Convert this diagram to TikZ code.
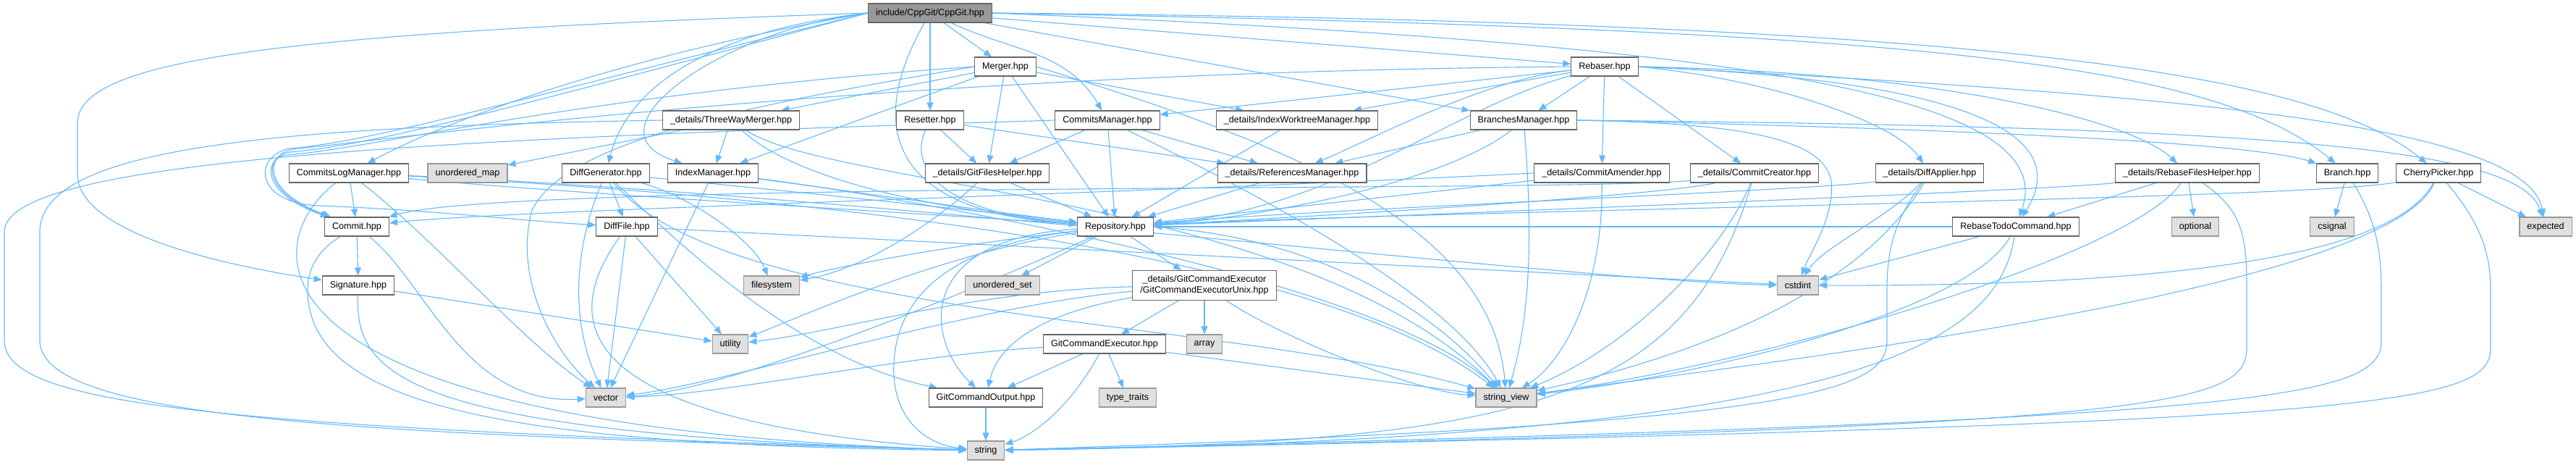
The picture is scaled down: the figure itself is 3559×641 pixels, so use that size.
\documentclass[tikz,border=0pt]{standalone}
\usepackage{fontspec}
\setmainfont{Liberation Sans}
\usetikzlibrary{arrows.meta, backgrounds}
\definecolor{edgeblue}{HTML}{63B8FF}
\definecolor{boxgray}{HTML}{666666}
\definecolor{extfill}{HTML}{E0E0E0}
\definecolor{extdraw}{HTML}{999999}
\definecolor{rootfill}{HTML}{999999}
\tikzset{
  hdr/.style={
    rectangle, draw=boxgray, fill=white, line width=1.1pt,
    minimum height=26pt, inner xsep=10.5pt, inner ysep=2pt,
    font=\fontsize{12.6}{15}\selectfont
  },
  sysbox/.style={hdr, draw=extdraw, fill=extfill},
  rootbox/.style={hdr, fill=rootfill},
  dep/.style={draw=edgeblue, line width=1.1pt,
    -{Triangle[length=11pt,width=9pt]}}
}
\begin{document}
\begin{tikzpicture}[x=1pt, y=1pt]
    \useasboundingbox (0,0) rectangle (3559,-641);

    % Root
    \node[rootbox] (cppgit) at (1285,-18) {include/CppGit/CppGit.hpp};

    % Public headers and helpers
    \node[hdr] (merger) at (1389,-92) {Merger.hpp};
    \node[hdr] (rebaser) at (2217,-92) {Rebaser.hpp};
    \node[hdr] (threeWay) at (1010,-166) {\_details/ThreeWayMerger.hpp};
    \node[hdr] (resetter) at (1285,-166) {Resetter.hpp};
    \node[hdr] (commitsMgr) at (1530,-166) {CommitsManager.hpp};
    \node[hdr] (indexWt) at (1792,-166) {\_details/IndexWorktreeManager.hpp};
    \node[hdr] (branchesMgr) at (2105,-166) {BranchesManager.hpp};
    \node[hdr] (logMgr) at (482,-239) {CommitsLogManager.hpp};
    \node[sysbox] (umap) at (646,-239) {unordered\_map};
    \node[hdr] (diffGen) at (837,-239) {DiffGenerator.hpp};
    \node[hdr] (indexMgr) at (985,-239) {IndexManager.hpp};
    \node[hdr] (gitFiles) at (1364,-239) {\_details/GitFilesHelper.hpp};
    \node[hdr] (refsMgr) at (1785,-239) {\_details/ReferencesManager.hpp};
    \node[hdr] (amender) at (2213,-239) {\_details/CommitAmender.hpp};
    \node[hdr] (creator) at (2424,-239) {\_details/CommitCreator.hpp};
    \node[hdr] (diffApplier) at (2666,-239) {\_details/DiffApplier.hpp};
    \node[hdr] (rebaseFiles) at (3022,-239) {\_details/RebaseFilesHelper.hpp};
    \node[hdr] (branch) at (3243,-239) {Branch.hpp};
    \node[hdr] (cherryPicker) at (3369,-239) {CherryPicker.hpp};
    \node[hdr] (commit) at (493,-313) {Commit.hpp};
    \node[hdr] (diffFile) at (866,-313) {DiffFile.hpp};
    \node[hdr] (repo) at (1541,-313) {Repository.hpp};
    \node[hdr] (todoCmd) at (2785,-313) {RebaseTodoCommand.hpp};
    \node[hdr] (signature) at (495,-394) {Signature.hpp};
    \node[hdr, align=center, minimum height=41pt] (execUnix) at (1664,-394)
      {\_details/GitCommandExecutor\\/GitCommandExecutorUnix.hpp};
    \node[hdr] (gitExec) at (1526,-475) {GitCommandExecutor.hpp};
    \node[hdr] (gitOutput) at (1362,-549) {GitCommandOutput.hpp};

    % Standard headers
    \node[sysbox] (optional) at (3033,-313) {optional};
    \node[sysbox] (csignal) at (3222,-313) {csignal};
    \node[sysbox] (expected) at (3517,-313) {expected};
    \node[sysbox] (filesystem) at (1066,-394) {filesystem};
    \node[sysbox] (uset) at (1385,-394) {unordered\_set};
    \node[sysbox] (cstdint) at (2484,-394) {cstdint};
    \node[sysbox] (utility) at (1009,-475) {utility};
    \node[sysbox] (array) at (1664,-475) {array};
    \node[sysbox] (vector) at (837,-549) {vector};
    \node[sysbox] (typeTraits) at (1558,-549) {type\_traits};
    \node[sysbox] (stringView) at (2081,-549) {string\_view};
    \node[sysbox] (string) at (1362,-622) {string};

    \begin{scope}[on background layer]
    % CppGit.hpp
    \draw[dep] (cppgit) -- (merger);
    \draw[dep] (cppgit) -- (resetter);
    \draw[dep] (cppgit) to[out=-25, in=120] (commitsMgr);
    \draw[dep] (cppgit) .. controls (1215,-140) and (1190,-290) .. (repo);
    \draw[dep] (cppgit) -- (rebaser);
    \draw[dep] (cppgit) -- (branchesMgr);
    \draw[dep] (cppgit.east) .. controls (2600,-40) and (3050,-80) .. (branch);
    \draw[dep] (cppgit.east) .. controls (2750,-30) and (3200,-100) .. (cherryPicker);
    \draw[dep] (cppgit.east) .. controls (2400,-60) and (2850,-130) .. (todoCmd);
    \draw[dep] (cppgit.west) .. controls (900,-70) and (650,-150) .. (logMgr);
    \draw[dep] (cppgit.west) .. controls (700,-150) and (520,-200) .. (400,-210)
      .. controls (365,-215) and (360,-265) .. (commit);
    \draw[dep] (cppgit.west) .. controls (400,-45) and (107,-80) .. (107,-170)
      -- (107,-240) .. controls (107,-320) and (300,-365) .. (signature);
    \draw[dep] (cppgit.west) .. controls (700,-140) and (520,-195) .. (400,-205)
      .. controls (350,-215) and (350,-280) .. (440,-284)
      .. controls (600,-290) and (720,-305) .. (diffFile);
    \draw[dep] (cppgit.west) .. controls (1000,-40) and (870,-110) .. (diffGen);
    \draw[dep] (cppgit.west) .. controls (1000,-40) and (800,-180) .. (indexMgr);

    % Merger.hpp
    \draw[dep] (merger) -- (threeWay);
    \draw[dep] (merger) -- (indexMgr);
    \draw[dep] (merger) -- (gitFiles);
    \draw[dep] (merger) -- (repo);
    \draw[dep] (merger) -- (indexWt);
    \draw[dep] (merger.west) .. controls (800,-130) and (520,-205) .. (395,-214)
      .. controls (362,-220) and (362,-268) .. (commit);
    \draw[dep] (merger.west) .. controls (1000,-150) and (780,-200) .. (735,-290)
      .. controls (710,-380) and (760,-480) .. (vector);
    \draw[dep] (merger.east) .. controls (1750,-190) and (2060,-300) .. (stringView);

    % Resetter.hpp
    \draw[dep] (resetter) -- (gitFiles);
    \draw[dep] (resetter) -- (refsMgr);
    \draw[dep] (resetter) .. controls (1255,-230) and (1300,-295) .. (repo);

    % CommitsManager.hpp
    \draw[dep] (commitsMgr) -- (gitFiles);
    \draw[dep] (commitsMgr) -- (repo);
    \draw[dep] (commitsMgr) -- (refsMgr);
    \draw[dep] (commitsMgr.west) .. controls (600,-192) and (6,-220) .. (6,-320)
      -- (6,-470) .. controls (6,-560) and (300,-590) .. (string);
    \draw[dep] (commitsMgr) .. controls (1700,-250) and (2000,-400) .. (stringView);

    % Rebaser.hpp
    \draw[dep] (rebaser) -- (indexWt);
    \draw[dep] (rebaser) -- (commitsMgr);
    \draw[dep] (rebaser) .. controls (2050,-110) and (1900,-190) .. (refsMgr);
    \draw[dep] (rebaser) -- (branchesMgr);
    \draw[dep] (rebaser) -- (amender);
    \draw[dep] (rebaser) -- (creator);
    \draw[dep] (rebaser.east) .. controls (2450,-110) and (2620,-170) .. (diffApplier);
    \draw[dep] (rebaser.east) .. controls (2700,-100) and (2950,-170) .. (rebaseFiles);
    \draw[dep] (rebaser.east) .. controls (2700,-110) and (2870,-180) .. (todoCmd);
    \draw[dep] (rebaser) .. controls (2000,-150) and (1850,-290) .. (repo);
    \draw[dep] (rebaser.east) .. controls (3000,-130) and (3490,-170) .. (expected);
    \draw[dep] (rebaser.west) .. controls (1200,-100) and (520,-195) .. (405,-206)
      .. controls (368,-212) and (358,-262) .. (commit);

    % BranchesManager.hpp
    \draw[dep] (branchesMgr) -- (refsMgr);
    \draw[dep] (branchesMgr) .. controls (2000,-250) and (1750,-300) .. (repo);
    \draw[dep] (branchesMgr) .. controls (2120,-350) and (2110,-450) .. (stringView);
    \draw[dep] (branchesMgr.east) .. controls (2800,-180) and (3120,-200) .. (branch);
    \draw[dep] (branchesMgr.east) .. controls (3100,-175) and (3480,-200) .. (expected);
    \draw[dep] (branchesMgr.east) .. controls (2400,-170) and (2520,-190) .. (2530,-250)
      .. controls (2535,-300) and (2500,-350) .. (cstdint);

    % helpers to Repository.hpp
    \draw[dep] (indexWt) -- (repo);
    \draw[dep] (gitFiles) -- (repo);
    \draw[dep] (gitFiles) .. controls (1300,-300) and (1200,-370) .. (filesystem);
    \draw[dep] (refsMgr) -- (repo);

    % ThreeWayMerger.hpp
    \draw[dep] (threeWay) -- (indexMgr);
    \draw[dep] (threeWay) -- (umap);
    \draw[dep] (threeWay) .. controls (1100,-250) and (1300,-290) .. (repo);
    \draw[dep] (threeWay) .. controls (1150,-260) and (1800,-270) .. (stringView);
    \draw[dep] (threeWay.west) .. controls (400,-175) and (55,-200) .. (55,-320)
      -- (55,-470) .. controls (55,-580) and (500,-600) .. (string);

    % CommitsLogManager.hpp
    \draw[dep] (logMgr) -- (commit);
    \draw[dep] (logMgr) .. controls (800,-268) and (1200,-290) .. (repo);
    \draw[dep] (logMgr) .. controls (360,-330) and (300,-590) .. (string);
    \draw[dep] (logMgr) .. controls (600,-330) and (720,-470) .. (vector);
    \draw[dep] (logMgr) .. controls (1000,-265) and (1800,-330) .. (stringView);
    \draw[dep] (logMgr) .. controls (1200,-270) and (2200,-390) .. (cstdint);

    % Commit.hpp, Signature.hpp
    \draw[dep] (commit) -- (signature);
    \draw[dep] (commit) .. controls (440,-345) and (425,-370) .. (425,-400)
      .. controls (425,-560) and (700,-615) .. (string);
    \draw[dep] (commit) .. controls (590,-390) and (640,-560) .. (vector);
    \draw[dep] (signature) -- (utility);
    \draw[dep] (signature) .. controls (490,-520) and (560,-600) .. (string);

    % DiffGenerator.hpp, IndexManager.hpp, DiffFile.hpp
    \draw[dep] (diffGen) -- (diffFile);
    \draw[dep] (diffGen) .. controls (790,-350) and (790,-450) .. (vector);
    \draw[dep] (diffGen) .. controls (950,-270) and (1040,-330) .. (filesystem);
    \draw[dep] (diffGen) .. controls (1000,-255) and (1300,-285) .. (repo);
    \draw[dep] (diffGen) .. controls (1000,-440) and (1700,-440) .. (stringView);
    \draw[dep] (diffGen) .. controls (960,-360) and (1120,-500) .. (gitOutput);
    \draw[dep] (indexMgr) .. controls (1150,-260) and (1350,-290) .. (repo);
    \draw[dep] (indexMgr) -- (vector);
    \draw[dep] (indexMgr) .. controls (1200,-265) and (1900,-380) .. (stringView);
    \draw[dep] (diffFile) -- (vector);
    \draw[dep] (diffFile) -- (utility);
    \draw[dep] (diffFile) .. controls (790,-420) and (740,-580) .. (string);
    \draw[dep] (diffFile) -- (cstdint);

    % Repository.hpp
    \draw[dep] (repo) -- (uset);
    \draw[dep] (repo) -- (execUnix);
    \draw[dep] (repo) .. controls (1260,-330) and (1280,-470) .. (gitOutput);
    \draw[dep] (repo) .. controls (1300,-340) and (1230,-420) .. (1235,-520)
      .. controls (1240,-590) and (1290,-615) .. (string);
    \draw[dep] (repo) .. controls (1300,-340) and (1150,-370) .. (filesystem);
    \draw[dep] (repo) .. controls (1300,-350) and (1100,-440) .. (utility);
    \draw[dep] (repo) .. controls (1300,-420) and (1000,-540) .. (vector);
    \draw[dep] (repo.east) .. controls (1850,-330) and (2000,-450) .. (stringView);

    % GitCommandExecutor
    \draw[dep] (execUnix) -- (gitExec);
    \draw[dep] (execUnix) -- (array);
    \draw[dep] (execUnix) .. controls (1450,-430) and (1380,-470) .. (gitOutput);
    \draw[dep] (execUnix) .. controls (1760,-460) and (1950,-540) .. (stringView);
    \draw[dep] (execUnix) .. controls (1350,-420) and (1000,-530) .. (vector);
    \draw[dep] (execUnix) .. controls (1350,-400) and (1150,-460) .. (utility);
    \draw[dep] (gitExec) -- (gitOutput);
    \draw[dep] (gitExec) -- (typeTraits);
    \draw[dep] (gitExec) .. controls (1480,-560) and (1430,-600) .. (string);
    \draw[dep] (gitExec) -- (stringView);
    \draw[dep] (gitExec) .. controls (1250,-490) and (1000,-545) .. (vector);
    \draw[dep] (gitOutput) -- (string);

    % CommitAmender, CommitCreator, DiffApplier
    \draw[dep] (amender) -- (repo);
    \draw[dep] (amender) .. controls (2215,-400) and (2160,-500) .. (stringView);
    \draw[dep] (amender.west) .. controls (1500,-270) and (700,-290) .. (commit);
    \draw[dep] (creator) .. controls (2300,-270) and (1800,-300) .. (repo);
    \draw[dep] (creator) .. controls (2380,-350) and (2250,-480) .. (stringView);
    \draw[dep] (creator) .. controls (2330,-560) and (2100,-610) .. (string);
    \draw[dep] (creator) .. controls (2200,-265) and (700,-250) .. (commit);
    \draw[dep] (diffApplier) .. controls (2520,-262) and (1800,-290) .. (repo);
    \draw[dep] (diffApplier) .. controls (2610,-300) and (2520,-340) .. (cstdint);
    \draw[dep] (diffApplier) .. controls (2560,-420) and (2300,-500) .. (stringView);
    \draw[dep] (diffApplier) .. controls (2620,-300) and (2607,-340) .. (2607,-400)
      -- (2607,-470) .. controls (2607,-540) and (2500,-585) .. (string);

    % RebaseFilesHelper, RebaseTodoCommand
    \draw[dep] (rebaseFiles) -- (todoCmd);
    \draw[dep] (rebaseFiles) -- (optional);
    \draw[dep] (rebaseFiles) .. controls (2850,-262) and (2000,-295) .. (repo);
    \draw[dep] (rebaseFiles) .. controls (2950,-350) and (2450,-500) .. (stringView);
    \draw[dep] (rebaseFiles) .. controls (3100,-290) and (3104,-330) .. (3104,-400)
      -- (3104,-480) .. controls (3104,-560) and (3000,-590) .. (string);
    \draw[dep] (todoCmd) -- (cstdint);
    \draw[dep] (todoCmd) -- (repo);
    \draw[dep] (todoCmd) .. controls (2720,-430) and (2350,-520) .. (stringView);
    \draw[dep] (todoCmd) .. controls (2760,-480) and (2550,-605) .. (string);

    % Branch, CherryPicker
    \draw[dep] (branch) -- (csignal);
    \draw[dep] (branch) .. controls (3280,-300) and (3290,-340) .. (3290,-400)
      -- (3290,-470) .. controls (3290,-550) and (3150,-580) .. (string);
    \draw[dep] (cherryPicker) -- (expected);
    \draw[dep] (cherryPicker) .. controls (3200,-275) and (2000,-290) .. (repo);
    \draw[dep] (cherryPicker) .. controls (3300,-370) and (2900,-395) .. (cstdint);
    \draw[dep] (cherryPicker) .. controls (3300,-400) and (2450,-500) .. (stringView);
    \draw[dep] (cherryPicker) .. controls (3420,-300) and (3441,-340) .. (3441,-400)
      -- (3441,-480) .. controls (3441,-560) and (3300,-585) .. (string);
    \end{scope}
  \end{tikzpicture}
\end{document}
